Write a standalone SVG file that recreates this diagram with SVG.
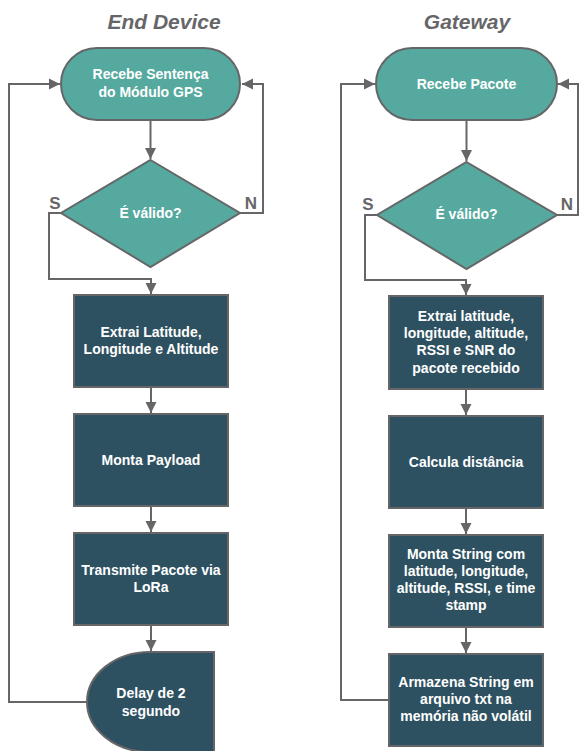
<svg xmlns="http://www.w3.org/2000/svg" width="579" height="751" viewBox="0 0 579 751">
<style>
.term{fill:#55A99E;stroke:#666668;stroke-width:2}
.box{fill:#2E5161;stroke:#666668;stroke-width:2}
.t{font-family:"Liberation Sans",Arial,sans-serif;font-weight:bold;font-size:14px;fill:#ffffff;text-anchor:middle}
.title{font-family:"Liberation Sans",Arial,sans-serif;font-weight:bold;font-style:italic;font-size:21px;fill:#666668;text-anchor:middle}
.lbl{font-family:"Liberation Sans",Arial,sans-serif;font-weight:bold;font-size:17px;fill:#666668;text-anchor:middle}
.c{fill:none;stroke:#666668;stroke-width:2}
</style>
<defs>
<marker id="ah" markerWidth="12" markerHeight="12" refX="11" refY="6" orient="auto" markerUnits="userSpaceOnUse">
<path d="M0,0.5 L11,6 L0,11.5 Z" fill="#666668"/>
</marker>
</defs>
<text class="title" x="164" y="29">End Device</text>
<text class="title" x="467" y="29">Gateway</text>
<g id="connectors">
<path class="c" d="M150.5,120 V159" marker-end="url(#ah)"/>
<path class="c" d="M240,213 H263 V84 H242" marker-end="url(#ah)"/>
<path class="c" d="M61,213 H49 V279 H151 V294" marker-end="url(#ah)"/>
<path class="c" d="M151,387 V413" marker-end="url(#ah)"/>
<path class="c" d="M151,506 V532" marker-end="url(#ah)"/>
<path class="c" d="M151,625 V651" marker-end="url(#ah)"/>
<path class="c" d="M87,702 H9 V84 H60" marker-end="url(#ah)"/>
<path class="c" d="M466.5,120 V161" marker-end="url(#ah)"/>
<path class="c" d="M557,215 H578 V84 H558" marker-end="url(#ah)"/>
<path class="c" d="M377,215 H365 V280 H466 V295" marker-end="url(#ah)"/>
<path class="c" d="M466,389 V415" marker-end="url(#ah)"/>
<path class="c" d="M466,508 V534" marker-end="url(#ah)"/>
<path class="c" d="M466,627 V653" marker-end="url(#ah)"/>
<path class="c" d="M389,700 H341 V84 H375" marker-end="url(#ah)"/>
</g>
<g id="ed-start">
<rect class="term" x="61" y="48" width="179" height="72" rx="36" ry="36"/>
<text class="t" x="150.5" y="79">Recebe Sentença</text>
<text class="t" x="150.5" y="97">do Módulo GPS</text>
</g>
<g id="ed-valid">
<path class="term" d="M150.5,160 L240,213 L150.5,267 L61,213 Z"/>
<text class="t" x="150.5" y="218">É válido?</text>
<text class="lbl" x="55" y="209">S</text>
<text class="lbl" x="251" y="209">N</text>
</g>
<g id="ed-extrai">
<rect class="box" x="74" y="295" width="154" height="92"/>
<text class="t" x="151" y="337">Extrai Latitude,</text>
<text class="t" x="151" y="354">Longitude e Altitude</text>
</g>
<g id="ed-payload">
<rect class="box" x="74" y="414" width="154" height="92"/>
<text class="t" x="151" y="465">Monta Payload</text>
</g>
<g id="ed-transmite">
<rect class="box" x="74" y="533" width="154" height="92"/>
<text class="t" x="151" y="575">Transmite Pacote via</text>
<text class="t" x="151" y="592">LoRa</text>
</g>
<g id="ed-delay">
<path class="box" d="M150,652 H214 V752 H150 A63,50 0 0 1 150,652 Z"/>
<text class="t" x="151" y="698">Delay de 2</text>
<text class="t" x="151" y="716">segundo</text>
</g>
<g id="gw-start">
<rect class="term" x="376" y="48" width="181" height="72" rx="36" ry="36"/>
<text class="t" x="466.5" y="89">Recebe Pacote</text>
</g>
<g id="gw-valid">
<path class="term" d="M466.5,162 L557,215 L466.5,269 L377,215 Z"/>
<text class="t" x="466.5" y="219">É válido?</text>
<text class="lbl" x="368" y="210">S</text>
<text class="lbl" x="567" y="210">N</text>
</g>
<g id="gw-extrai">
<rect class="box" x="389" y="296" width="154" height="93"/>
<text class="t" x="466" y="321">Extrai latitude,</text>
<text class="t" x="466" y="338">longitude, altitude,</text>
<text class="t" x="466" y="355">RSSI e SNR do</text>
<text class="t" x="466" y="373">pacote recebido</text>
</g>
<g id="gw-calcula">
<rect class="box" x="389" y="416" width="154" height="92"/>
<text class="t" x="466" y="467">Calcula distância</text>
</g>
<g id="gw-monta">
<rect class="box" x="389" y="535" width="154" height="92"/>
<text class="t" x="466" y="559">Monta String com</text>
<text class="t" x="466" y="576">latitude, longitude,</text>
<text class="t" x="466" y="593">altitude, RSSI, e time</text>
<text class="t" x="466" y="610">stamp</text>
</g>
<g id="gw-armazena">
<rect class="box" x="389" y="654" width="154" height="92"/>
<text class="t" x="466" y="687">Armazena String em</text>
<text class="t" x="466" y="704">arquivo txt na</text>
<text class="t" x="466" y="721">memória não volátil</text>
</g>
</svg>
